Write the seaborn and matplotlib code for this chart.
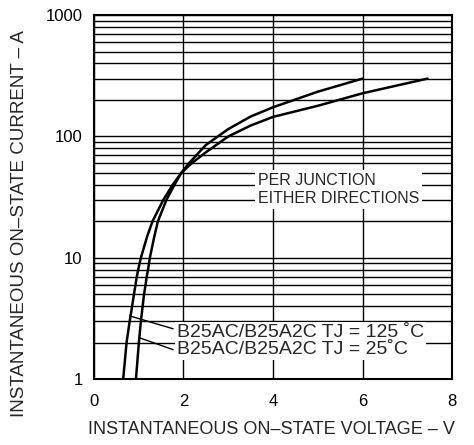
import numpy as np
import pandas as pd
import matplotlib
matplotlib.use("Agg")
import matplotlib.pyplot as plt
from matplotlib.ticker import LogLocator, FixedLocator, NullFormatter
import seaborn as sns

# ---- data ----
current_125 = [1, 2, 3, 4, 5, 6, 7, 8, 10, 15, 20, 30, 40, 50, 60, 74, 100,
               123, 145, 179, 227, 275, 300]
voltage_125 = [0.655, 0.73, 0.80, 0.855, 0.895, 0.93, 0.96, 0.99, 1.05, 1.19,
               1.31, 1.55, 1.76, 1.95, 2.18, 2.5, 3.0, 3.5, 4.0, 5.0, 6.0,
               7.0, 7.45]

current_25 = [1, 2, 3, 4, 5, 6, 7, 8, 10, 15, 20, 30, 40, 50, 60, 85, 115,
              146, 174, 234, 300]
voltage_25 = [0.94, 1.005, 1.05, 1.09, 1.12, 1.155, 1.18, 1.21, 1.25, 1.35,
              1.43, 1.62, 1.80, 1.95, 2.12, 2.5, 3.0, 3.5, 4.0, 5.0, 6.0]

x_ticks = [0, 2, 4, 6, 8]
y_ticks = [1, 10, 100, 1000]
y_tick_labels = ["1", "10", "100", "1000"]

label_125 = "B25AC/B25A2C TJ = 125 ˚C"
label_25 = "B25AC/B25A2C TJ = 25˚C"
note_text = "PER JUNCTION\nEITHER DIRECTIONS"
x_label = "INSTANTANEOUS ON–STATE VOLTAGE – V"
y_label = "INSTANTANEOUS ON–STATE CURRENT – A"

# leader line anchor points on the curves (V, I) and at the label
leader_125 = (0.80, 3.32)
leader_25 = (1.02, 2.19)
leader_end_125 = (1.77, 2.6)
leader_end_25 = (1.77, 1.75)

df125 = pd.DataFrame({"V": voltage_125, "I": current_125})
df25 = pd.DataFrame({"V": voltage_25, "I": current_25})

sns.set_theme(style="white")
plt.rcParams["font.family"] = ["Liberation Sans", "DejaVu Sans"]

fig = plt.figure(figsize=(4.74, 4.45), dpi=100)
ax = fig.add_axes([0.198, 0.148, 0.954 - 0.198, 0.966 - 0.148])

sns.lineplot(data=df125, x="V", y="I", ax=ax, color="black", lw=1.8,
             estimator=None, sort=False, zorder=4)
sns.lineplot(data=df25, x="V", y="I", ax=ax, color="black", lw=1.8,
             estimator=None, sort=False, zorder=4)

ax.set_yscale("log")
ax.set_xlim(0, 8)
ax.set_ylim(1, 1000)

ax.xaxis.set_major_locator(FixedLocator(x_ticks))
ax.set_xticklabels([str(t) for t in x_ticks])
ax.yaxis.set_major_locator(FixedLocator(y_ticks))
ax.set_yticklabels(y_tick_labels)
ax.yaxis.set_minor_locator(LogLocator(base=10, subs=np.arange(2, 10)))
ax.yaxis.set_minor_formatter(NullFormatter())

ax.tick_params(axis="both", which="both", length=0, labelsize=12, colors="black")
ax.tick_params(axis="x", pad=11)
ax.tick_params(axis="y", pad=8)

ax.grid(True, which="both", axis="y", color="black", lw=1.0)
ax.grid(True, which="major", axis="x", color="black", lw=1.0)
ax.set_axisbelow(True)

for s in ax.spines.values():
    s.set_color("black")
    s.set_linewidth(1.5)

ax.set_xlabel("")
ax.set_ylabel("")
fig.text(271 / 474, 1 - 430 / 445, x_label, ha="center", va="center", fontsize=13)
fig.text(20 / 474, 1 - 224 / 445, y_label, ha="center", va="center",
         rotation=90, fontsize=13.5)

ax.text(3.66, 36.5, note_text, ha="left", va="center", fontsize=11.5,
        linespacing=1.25, zorder=5,
        bbox=dict(facecolor="white", edgecolor="none", pad=2))

ax.text(1.86, 2.07, label_125 + "\n" + label_25, ha="left", va="center",
        fontsize=14, linespacing=1.0, zorder=5,
        bbox=dict(facecolor="white", edgecolor="none", pad=1.5))

ax.annotate("", xy=leader_125, xytext=leader_end_125,
            arrowprops=dict(arrowstyle="-", color="black", lw=1.0,
                            shrinkA=0, shrinkB=0), zorder=6)
ax.annotate("", xy=leader_25, xytext=leader_end_25,
            arrowprops=dict(arrowstyle="-", color="black", lw=1.0,
                            shrinkA=0, shrinkB=0), zorder=6)

fig.savefig("out.png", dpi=100, facecolor="white")
